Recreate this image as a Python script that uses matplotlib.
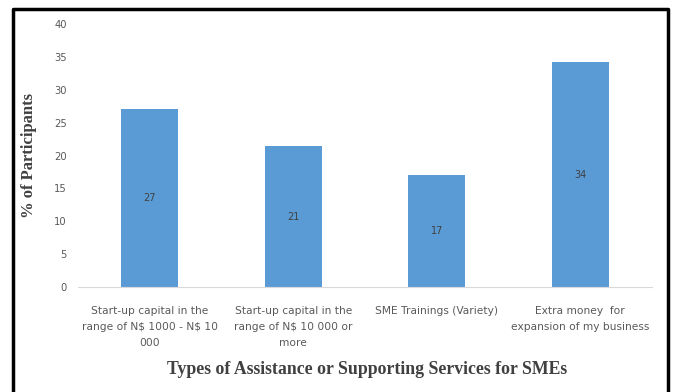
import matplotlib.pyplot as plt
from matplotlib.lines import Line2D

categories = [
    "Start-up capital in the\nrange of N\\$ 1000 - N\\$ 10\n000",
    "Start-up capital in the\nrange of N\\$ 10 000 or\nmore",
    "SME Trainings (Variety)",
    "Extra money  for\nexpansion of my business",
]
percent = [27.1, 21.4, 17.1, 34.2]
yticks = [0, 5, 10, 15, 20, 25, 30, 35, 40]

W, H = 673, 392
fig = plt.figure(figsize=(W / 100, H / 100), dpi=100)
ax = fig.add_axes([78 / W, 1 - 287 / H, 574 / W, 263 / H])

x = range(len(categories))
bars = ax.bar(x, percent, width=0.4, color="#5b9bd5", zorder=2)
ax.bar_label(bars, labels=[f"{v:.0f}" for v in percent], label_type="center",
             fontsize=7, color="#404040", family="DejaVu Sans")

ax.set_xlim(-0.5, 3.5)
ax.set_ylim(0, 40)
ax.set_yticks(yticks)
ax.set_xticks(list(x))
ax.set_xticklabels(categories, fontsize=7.7, color="#595959", family="DejaVu Sans",
                   linespacing=1.75)
ax.tick_params(axis="y", labelsize=7.2, labelcolor="#595959", length=0, pad=8)
ax.tick_params(axis="x", length=0, pad=14)

for side in ["top", "right", "left"]:
    ax.spines[side].set_visible(False)
ax.spines["bottom"].set_color("#d9d9d9")

ax.set_ylabel("% of Participants", family="Liberation Serif", fontweight="bold",
              fontsize=12, color="#404040", labelpad=12)
fig.text(367 / W, 1 - 370 / H, "Types of Assistance or Supporting Services for SMEs",
         family="Liberation Serif", fontweight="bold", fontsize=12.8,
         color="#404040", ha="center", va="center")

# black frame around the chart (open at the bottom)
fx = [13 / W, 13 / W, 668 / W, 668 / W]
fy = [0, 1 - 9 / H, 1 - 9 / H, 0]
fig.add_artist(Line2D(fx, fy, transform=fig.transFigure, color="black", lw=2.5))

fig.savefig("out.png", dpi=100)
